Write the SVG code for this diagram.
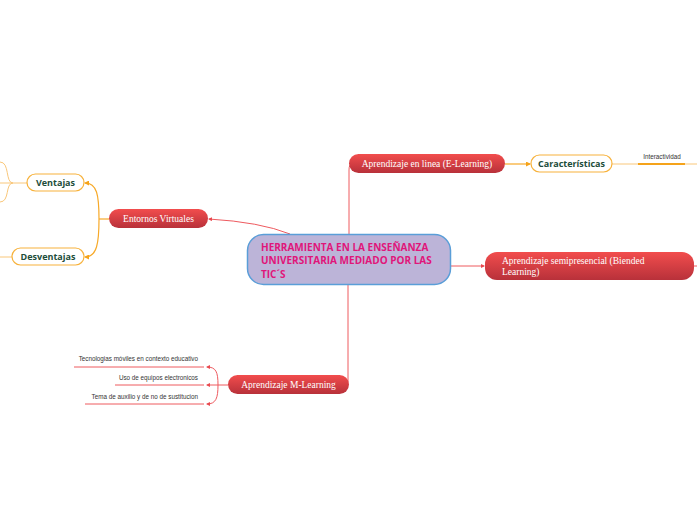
<svg xmlns="http://www.w3.org/2000/svg" width="697" height="520" viewBox="0 0 697 520">
<defs>
<linearGradient id="red" x1="0" y1="0" x2="0" y2="1">
<stop offset="0" stop-color="#f24d4d"/>
<stop offset="1" stop-color="#b8313a"/>
</linearGradient>
<marker id="ar" markerWidth="4" markerHeight="4" refX="3" refY="2" orient="auto" markerUnits="userSpaceOnUse">
<path d="M0,0 L4,2 L0,4 z" fill="#e84a50"/>
</marker>
<marker id="ao" markerWidth="5" markerHeight="5" refX="4" refY="2.5" orient="auto" markerUnits="userSpaceOnUse">
<path d="M0,0 L5,2.5 L0,5 z" fill="#f5a31a"/>
</marker>
<style>
.red{fill:url(#red);}
.rt{font-family:"Liberation Serif","DejaVu Serif",serif;font-size:9.5px;fill:#ffffff;}
.ob{fill:#ffffff;stroke:#f7b23c;stroke-width:1.2;}
.ot{font-family:"Open Sans","Noto Sans",sans-serif;font-weight:bold;font-size:9px;fill:#1d4d3a;text-anchor:middle;}
.lr{fill:none;stroke:#ee5a5f;stroke-width:1;}
.lo{fill:none;stroke:#f7a928;stroke-width:1.2;}
.lol{fill:none;stroke:#f9c77a;stroke-width:1;}
.small{font-family:"Liberation Sans","DejaVu Sans",sans-serif;font-size:6.3px;fill:#333333;}
</style>
</defs>
<rect width="697" height="520" fill="#ffffff"/>
<g id="connectors">
<path class="lr" d="M290,234 Q260,222 209,219" marker-end="url(#ar)"/>
<path class="lr" d="M349,234 L349,170 Q349,164 352,164"/>
<path class="lr" d="M348,285 L348,380 Q348,385 346,385"/>
<path class="lr" d="M451,266 L484,266" marker-end="url(#ar)"/>
<path class="lr" d="M694,266 L697,266"/>
<path class="lo" d="M505,164 L530,164" marker-end="url(#ao)"/>
<path class="lol" d="M612,164 L697,164"/>
<path d="M638,164 L685,164" stroke="#f5a31a" stroke-width="2" fill="none"/>
<path class="lo" d="M109,219 L99,219"/>
<path class="lo" d="M99,219 C99,195 97,183 85,183" marker-end="url(#ao)"/>
<path class="lo" d="M99,219 C99,243 97,257 85,257" marker-end="url(#ao)"/>
<path class="lol" d="M27,183 L13,183"/>
<path class="lol" d="M13,183 C5,183 10,162 0,162"/>
<path class="lol" d="M13,183 L0,183"/>
<path class="lol" d="M13,183 C5,183 10,202 0,202"/>
<path class="lol" d="M12,257 L0,257"/>
<path class="lr" d="M228,385 L218,385"/>
<path class="lr" d="M218,385 C218,372 216,367 207,367" marker-end="url(#ar)"/>
<path class="lr" d="M218,385 L207,385" marker-end="url(#ar)"/>
<path class="lr" d="M218,385 C218,398 216,404 207,404" marker-end="url(#ar)"/>
<path class="lr" d="M74,367 L204,367" stroke-width="1.4"/>
<path class="lr" d="M115,385 L204,385" stroke-width="1.4"/>
<path class="lr" d="M85,404 L204,404" stroke-width="1.4"/>
</g>
<g id="central">
<rect x="247.5" y="234.5" width="203" height="50" rx="16" fill="#bcb4d8" stroke="#5a9ed8" stroke-width="1.5"/>
<text font-family="Open Sans,Noto Sans,sans-serif" font-weight="bold" font-size="10px" fill="#e0167a">
<tspan x="261" y="251">HERRAMIENTA EN LA ENSEÑANZA</tspan>
<tspan x="261" y="264">UNIVERSITARIA MEDIADO POR LAS</tspan>
<tspan x="261" y="278">TIC´S</tspan>
</text>
</g>
<g id="elearning">
<rect class="red" x="349" y="154" width="156" height="19" rx="9.5"/>
<text class="rt" x="427" y="167" text-anchor="middle">Aprendizaje en linea (E-Learning)</text>
</g>
<g id="semipresencial">
<rect class="red" x="485" y="252" width="209" height="28" rx="12"/>
<text class="rt"><tspan x="502" y="264">Aprendizaje semipresencial (Biended</tspan><tspan x="502" y="275">Learning)</tspan></text>
</g>
<g id="entornos">
<rect class="red" x="109" y="209" width="99" height="19" rx="9.5"/>
<text class="rt" x="158.5" y="222" text-anchor="middle">Entornos Virtuales</text>
</g>
<g id="mlearning">
<rect class="red" x="228" y="375" width="121" height="19" rx="9.5"/>
<text class="rt" x="288.5" y="388" text-anchor="middle">Aprendizaje M-Learning</text>
</g>
<g id="caracteristicas">
<rect class="ob" x="531" y="155" width="81" height="17" rx="8.5"/>
<text class="ot" x="571.5" y="167">Características</text>
</g>
<g id="interactividad">
<text class="small" x="662" y="159" text-anchor="middle">Interactividad</text>
</g>
<g id="ventajas">
<rect class="ob" x="27" y="174" width="57" height="17" rx="8.5"/>
<text class="ot" x="55.5" y="186">Ventajas</text>
</g>
<g id="desventajas">
<rect class="ob" x="12" y="248" width="72" height="17" rx="8.5"/>
<text class="ot" x="48" y="260">Desventajas</text>
</g>
<g id="tec">
<text class="small" x="198" y="361" text-anchor="end">Tecnologias móviles en contexto educativo</text>
</g>
<g id="uso">
<text class="small" x="198" y="380" text-anchor="end">Uso de equipos electronicos</text>
</g>
<g id="tema">
<text class="small" x="198" y="399" text-anchor="end">Tema de auxilio y de no de sustitucion</text>
</g>
</svg>
